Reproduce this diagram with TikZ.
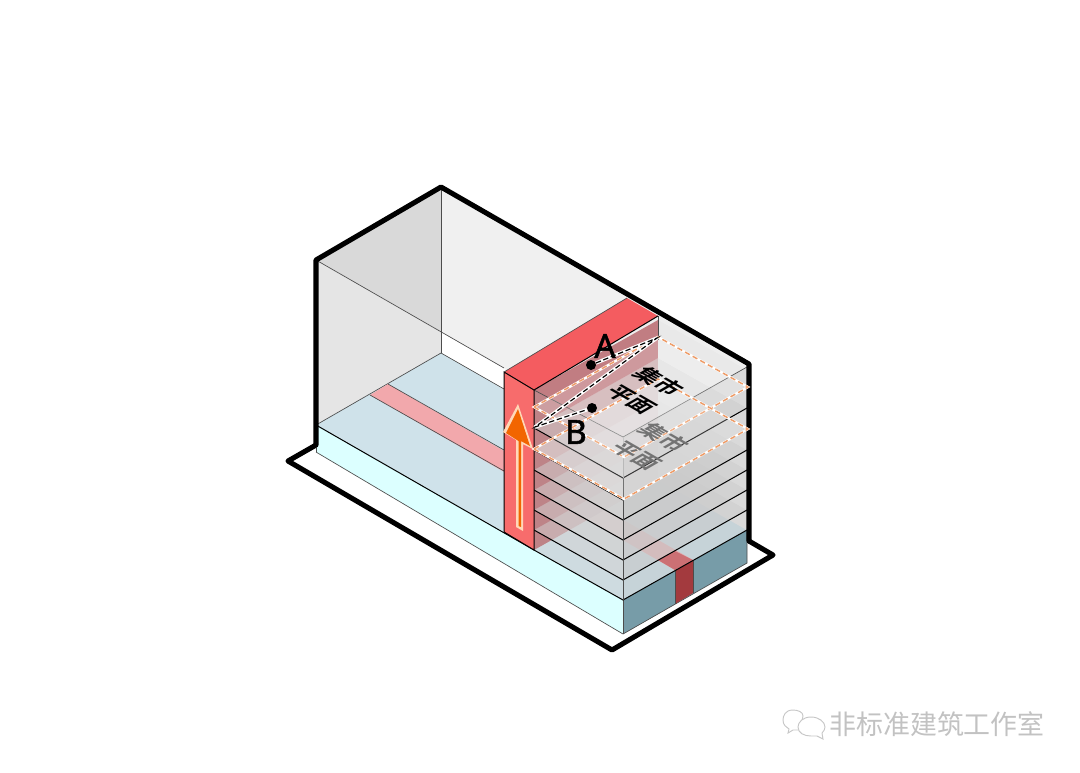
\documentclass[tikz,border=0pt]{standalone}
\usepackage{fontspec}
\usetikzlibrary{calc}
\newfontfamily\cjk[BoldFont={Noto Sans CJK SC Bold}]{Noto Sans CJK SC}
\newfontfamily\latinfont[FakeBold=1.6]{Noto Sans}
\definecolor{podiumtop}{HTML}{CFE2EA}
\definecolor{podiumleft}{HTML}{DCFFFF}
\definecolor{podiumright}{HTML}{779CA8}
\definecolor{coretop}{HTML}{F45C60}
\definecolor{corefront}{HTML}{F76C6C}
\definecolor{corewall}{HTML}{B8646A}
\definecolor{stripetop}{HTML}{F2A8AC}
\definecolor{stripeshade}{HTML}{CC7074}
\definecolor{stripefront}{HTML}{A33A3E}
\definecolor{arroworange}{HTML}{F26500}
\definecolor{arrowpale}{HTML}{FFD8B8}
\definecolor{planeorange}{HTML}{EE9C68}
\tikzset{
  outline/.style={line width=3.8pt,line join=round,line cap=round},
  thinline/.style={draw=black!70,line width=0.5pt},
  floorline/.style={draw=black,line width=0.75pt},
  dotpt/.style={circle,fill=black,inner sep=0pt,minimum size=7.5pt},
  pointlabel/.style={font=\latinfont\fontsize{25}{25}\selectfont,inner sep=0pt},
  planelabel/.style={font=\cjk\bfseries\fontsize{17}{17}\selectfont,inner sep=0pt,transform shape},
  isoplane/.style={cm={0.87,-0.5,0.87,0.5,(0,0)}}
}
\begin{document}
\begin{tikzpicture}[x=0.75pt,y=-0.75pt]
\useasboundingbox (0,0) rectangle (1080,772);

% base plate
\draw[outline,fill=white] (316,445) -- (288,461) -- (612,650) -- (773,555) -- (749,541);

% shell walls
\fill[black!15] (316,260) -- (441,187) -- (441,332) -- cycle;
\fill[black!10] (316,260) -- (441,332) -- (441,353) -- (316,425) -- cycle;
\fill[black!6] (441,187) -- (749,364) -- (749,540) -- (623,480) -- (504,368) -- (441,332) -- cycle;
\fill[white] (441,332) -- (504,368) -- (504,390) -- (441,353) -- cycle;
\draw[thinline] (441,187) -- (441,353);
\draw[thinline] (316,260) -- (504,368);

% podium
\fill[podiumtop] (316,425) -- (441,353) -- (747,530) -- (623,600) -- cycle;
\fill[podiumleft] (316,425) -- (623,600) -- (623,634) -- (316,452) -- cycle;
\fill[podiumright] (623,600) -- (747,530) -- (747,563) -- (623,634) -- cycle;
\draw[thinline] (316,425) -- (441,353) -- (504,389);
\draw[thinline] (316,452) -- (623,634) -- (747,563) -- (747,530);
\draw[thinline] (316,425) -- (316,452);
\draw[thinline] (623,600) -- (623,634);
\draw[floorline] (316,425) -- (534,550);

% stripe
\fill[stripetop] (370,395) -- (388,384) -- (693,560) -- (675,570) -- cycle;
\draw[thinline] (370,395) -- (504,471);
\draw[thinline] (388,384) -- (504,450);
\fill[stripefront] (675,570) -- (693,560) -- (693,593) -- (675,604) -- cycle;
\draw[thinline] (675,570) -- (675,604);
\draw[thinline] (693,560) -- (693,593);

% storeys, bottom to top
\fill[corewall] (534,550) -- (658,480) -- (658,460) -- (534,530) -- cycle;
\fill[black!8] (658,480) -- (747,530) -- (747,510) -- (658,460) -- cycle;
\foreach \lev/\nxt in {530/510,510/490,490/470,470/450,450/428,428/390} {
  \fill[white!84!black,opacity=0.52] (534,\lev) -- (623,\lev+50) -- (747,\lev-20) -- (658,\lev-70) -- cycle;
  \fill[corewall] (534,\lev) -- (658,\lev-70) -- (658,\nxt-70) -- (534,\nxt) -- cycle;
  \fill[black!8] (658,\lev-70) -- (747,\lev-20) -- (747,\nxt-20) -- (658,\nxt-70) -- cycle;
}
\fill[white!90!black,opacity=0.2] (534,390) -- (623,437) -- (747,367) -- (658,316) -- cycle;

% glass faces
\fill[white!80!black,opacity=0.3] (534,390) -- (623,437) -- (623,600) -- (534,550) -- cycle;
\fill[white!72!black,opacity=0.35] (623,437) -- (747,367) -- (747,530) -- (623,600) -- cycle;
\fill[stripeshade] (658,560) -- (675,551) -- (693,560) -- (675,570) -- cycle;
\foreach \lev in {550,530,510,490,470,450,428} {
  \draw[floorline] (534,\lev) -- (623,\lev+50) -- (747,\lev-20);
}
\draw[thinline] (534,390) -- (623,437) -- (747,367);
\draw[draw=black!35,line width=0.5pt] (623,437) -- (623,478);
\draw[thinline] (623,478) -- (623,600);
\draw[thinline] (658,316) -- (658,340);

% core
\fill[coretop] (504,372) -- (627,298) -- (658,316) -- (534,390) -- cycle;
\fill[corefront] (504,372) -- (534,390) -- (534,550) -- (504,532) -- cycle;
\draw[floorline] (504,372) -- (534,390) -- (534,550) -- (504,532) -- cycle;
\draw[floorline] (534,390) -- (658,316);
\draw[thinline] (504,372) -- (627,298);

% shell outline
\draw[outline] (316,445) -- (316,260) -- (441,187) -- (749,364) -- (749,541);

% arrow
\fill[arrowpale] (516,527) -- (516,440) -- (503,432) -- (518,404) -- (533,449) -- (523,444) -- (523,531) -- cycle;
\fill[arroworange] (518.5,526) -- (518.5,441) -- (506,433) -- (518,409) -- (530,446) -- (521,441) -- (521,527) -- cycle;

% dashed planes
\foreach \dy in {0,42} {
  \fill[white,opacity=0.22] (534,407+\dy) -- (624,457+\dy) -- (748,387+\dy) -- (658,337+\dy) -- cycle;
  \draw[white,line width=1.8pt] (534,407+\dy) -- (624,457+\dy) -- (748,387+\dy) -- (658,337+\dy) -- cycle;
  \draw[planeorange,line width=1.1pt,dash pattern=on 4pt off 2.5pt] (534,407+\dy) -- (624,457+\dy) -- (748,387+\dy) -- (658,337+\dy) -- cycle;
}

% section line
\node[dotpt] (ptA) at (591,365) {};
\node[dotpt] (ptB) at (592,408) {};
\coordinate (backEnd) at (657,338);
\coordinate (frontEnd) at (535,427);
\draw[white,line width=2.6pt,line join=round] (ptA) -- (backEnd) -- (frontEnd) -- (ptB);
\draw[black,line width=0.9pt,dash pattern=on 4pt off 2pt] (ptA) -- (backEnd) -- (frontEnd) -- (ptB);
\node[pointlabel] (labelA) at (605,346) {A};
\node[pointlabel] (labelB) at (576,432) {B};

% plane labels
\begin{scope}[shift={(659,381)},isoplane]
  \node[planelabel] (marketUp) {集市};
\end{scope}
\begin{scope}[shift={(631,400)},isoplane]
  \node[planelabel] (planUp) {平面};
\end{scope}
\begin{scope}[shift={(664,437)},isoplane]
  \node[planelabel,text=black!55] (marketLow) {集市};
\end{scope}
\begin{scope}[shift={(636,456)},isoplane]
  \node[planelabel,text=black!55] (planLow) {平面};
\end{scope}

% watermark
\draw[black!22,line width=0.7pt,fill=white] (793,710) .. controls (785,710) and (783,716) .. (783,720) .. controls (783,725) and (786,727) .. (789,729) -- (788,733) -- (793,730) -- (800,730) -- (803,716) .. controls (803,712) and (798,710) .. (793,710) -- cycle;
\draw[black!22,line width=0.7pt,fill=white] (811,717) .. controls (803,717) and (798,722) .. (798,727) .. controls (798,733) and (804,736) .. (811,736) -- (817,736) -- (823,739) -- (822,733) .. controls (824,731) and (825,729) .. (825,727) .. controls (825,722) and (819,717) .. (811,717) -- cycle;
\node[font=\cjk\fontsize{20.2}{20}\selectfont,text=black!24,inner sep=0pt,anchor=west] (brand) at (829,724) {非标准建筑工作室};
\end{tikzpicture}
\end{document}
